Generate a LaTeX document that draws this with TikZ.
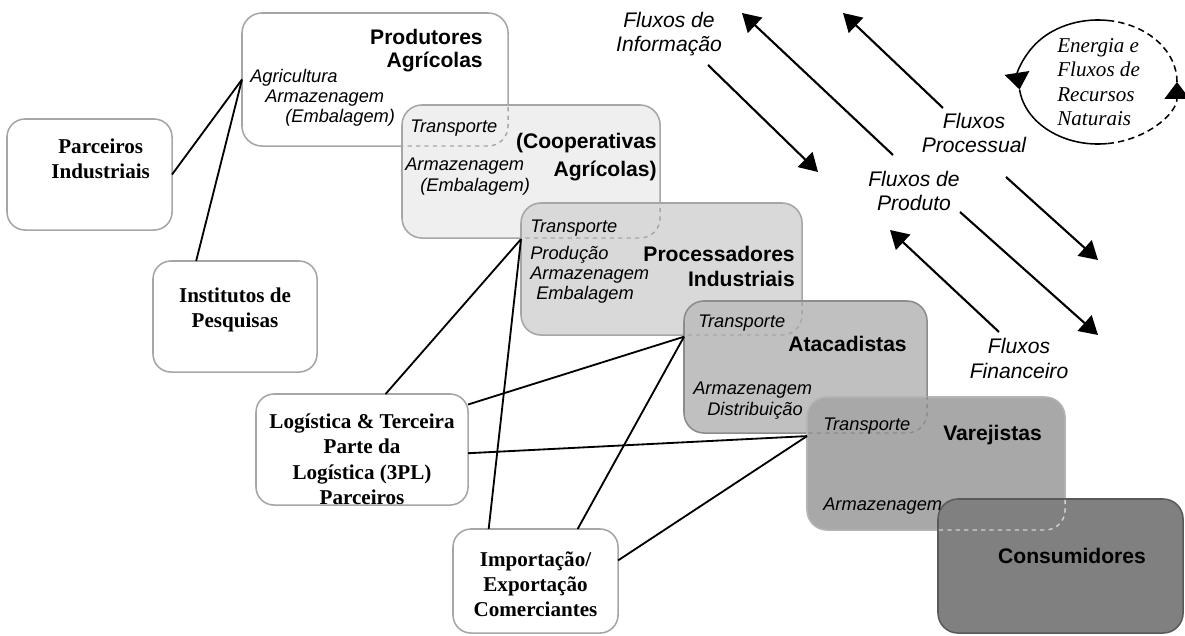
\documentclass[tikz,border=0pt]{standalone}
\usepackage{fontspec}
\setmainfont{Liberation Serif}
\setsansfont{Liberation Sans}
\usetikzlibrary{positioning}
\usetikzlibrary{arrows.meta}

\definecolor{boxline}{HTML}{A6A6A6}
\definecolor{coopfill}{HTML}{EFEFEF}
\definecolor{procfill}{HTML}{D9D9D9}
\definecolor{atacfill}{HTML}{C0C0C0}
\definecolor{atacline}{HTML}{8C8C8C}
\definecolor{varejfill}{HTML}{A8A8A8}
\definecolor{varejline}{HTML}{B4B4B4}
\definecolor{consfill}{HTML}{808080}
\definecolor{consline}{HTML}{5A5A5A}
\definecolor{dashlight}{HTML}{D2D2D2}

\tikzset{
	stage/.style={rectangle, rounded corners=0.5cm, line width=1.1pt, anchor=north west, inner sep=0pt, outer sep=0pt},
	partner/.style={rectangle, draw=boxline, fill=white, rounded corners=0.45cm, line width=1.1pt, anchor=north west, inner sep=0pt, outer sep=0pt},
	stitle/.style={font=\sffamily\bfseries\fontsize{15}{17}\selectfont, align=right, inner sep=0pt, anchor=base east},
	task/.style={font=\sffamily\itshape\fontsize{13}{14.5}\selectfont, align=left, inner sep=0pt, anchor=base west},
	ptext/.style={font=\bfseries\fontsize{15}{17.8}\selectfont, align=center, inner sep=0pt},
	flowlbl/.style={font=\sffamily\itshape\fontsize{15}{17.5}\selectfont, align=center, inner sep=0pt, anchor=base},
	flow/.style={line width=1.5pt, -{Triangle[length=0.45cm, width=0.52cm]}},
	link/.style={line width=1.3pt},
	cycletip/.style={-{Triangle[length=0.42cm, width=0.62cm]}},
}

\begin{document}
\begin{tikzpicture}[x=0.025cm, y=-0.025cm]

	\useasboundingbox (0,0) rectangle (1185,636);

	\node (prod_agr) [stage, draw=boxline, fill=white, minimum width=6.65cm, minimum height=3.325cm] at (242,13) {};
	\node (coop_agr) [stage, draw=boxline, fill=coopfill, minimum width=6.45cm, minimum height=3.325cm] at (402,105) {};
	\node (proc_ind) [stage, draw=boxline, fill=procfill, minimum width=7.025cm, minimum height=3.3cm] at (521,203) {};
	\node (atac) [stage, draw=atacline, fill=atacfill, minimum width=6.075cm, minimum height=3.3cm] at (684,301) {};
	\node (varej) [stage, draw=varejline, fill=varejfill, minimum width=6.45cm, minimum height=3.325cm] at (807,397) {};
	\node (cons) [stage, draw=consline, fill=consfill, minimum width=6.125cm, minimum height=3.35cm] at (938,499) {};

	\foreach \bx/\tx/\dc in {prod_agr/coop_agr/boxline, coop_agr/proc_ind/boxline, proc_ind/atac/boxline, atac/varej/atacline, varej/cons/dashlight} {
		\begin{scope}
			\clip[rounded corners=0.5cm] (\tx.north west) rectangle (\tx.south east);
			\path[draw=\dc, dashed, line width=1pt, rounded corners=0.5cm] (\bx.north west) rectangle (\bx.south east);
		\end{scope}
	}

	\node (prod_ttl) [stitle] at (483,68) {Produtores\\Agrícolas};
	\node (prod_tsk) [task] at (250,123) {Agricultura\\\hspace*{0.375cm}Armazenagem\\\hspace*{0.875cm}(Embalagem)};

	\node (coop_trn) [task] at (410,133) {Transporte};
	\node (coop_ttl) [stitle] at (657,177) {(Cooperativas\\[3pt]Agrícolas)};
	\node (coop_tsk) [task] at (405,192) {Armazenagem\\[1pt]\hspace*{0.375cm}(Embalagem)};

	\node (proc_trn) [task] at (530,233) {Transporte};
	\node (proc_ttl) [stitle] at (795,287) {Processadores\\[1pt]Industriais};
	\node (proc_tsk) [task] at (530,300) {Produção\\Armazenagem\\\hspace*{0.15cm}Embalagem};

	\node (atac_trn) [task] at (698,328) {Transporte};
	\node (atac_ttl) [stitle] at (907,352) {Atacadistas};
	\node (atac_tsk) [task] at (693,415) {Armazenagem\\\hspace*{0.35cm}Distribuição};

	\node (varej_trn) [task] at (823,430) {Transporte};
	\node (varej_ttl) [stitle, anchor=base west] at (943,440) {Varejistas};
	\node (varej_tsk) [task] at (823,510) {Armazenagem};

	\node (cons_ttl) [stitle, anchor=base] at (1072,563) {Consumidores};

	\node (parc_ind) [partner, minimum width=4.125cm, minimum height=2.775cm] at (7,119) {};
	\node (parc_lbl) [ptext, below=0.5cm of parc_ind.north, xshift=0.28cm] {Parceiros\\Industriais};
	\node (inst_pesq) [partner, minimum width=4.1cm, minimum height=2.775cm] at (153,261) {};
	\node (inst_lbl) [ptext, below=0.67cm of inst_pesq.north] {Institutos de\\Pesquisas};
	\node (log_3pl) [partner, minimum width=5.3cm, minimum height=2.775cm] at (256,394) {};
	\node (log_lbl) [ptext, below=0.5cm of log_3pl.north] {Logística \& Terceira\\Parte da\\Logística (3PL)\\Parceiros};
	\node (imp_exp) [partner, minimum width=4.125cm, minimum height=2.6cm] at (453,529) {};
	\node (imp_lbl) [ptext, below=0.56cm of imp_exp.north] {Importação/\\Exportação\\Comerciantes};

	\path[draw, link] (parc_ind.east) -- (prod_agr.west);
	\path[draw, link] (inst_pesq.125) -- (prod_agr.west);
	\path[draw, link] (log_3pl.67) -- (proc_ind.168);
	\path[draw, link] (imp_exp.132) -- (proc_ind.168);
	\path[draw, link] (log_3pl.23) -- (atac.166);
	\path[draw, link] (imp_exp.51) -- (atac.166);
	\path[draw, link] (log_3pl.-2) -- (varej.168);
	\path[draw, link] (imp_exp.14) -- (varej.168);

	\node (flx_info) [flowlbl] at (669,52) {Fluxos de\\Informação};
	\node (flx_proc) [flowlbl] at (974,153) {Fluxos\\Processual};
	\node (flx_prod) [flowlbl] at (914,211) {Fluxos de\\Produto};
	\node (flx_fin) [flowlbl] at (1019,378) {Fluxos\\Financeiro};

	\coordinate (info_s) at (708,65);
	\coordinate (info_t) at (818,172);
	\coordinate (prod_s) at (893,155);
	\coordinate (prod_t) at (742,13);
	\coordinate (proc_s) at (943,108);
	\coordinate (proc_t) at (843,13);
	\coordinate (proc2_s) at (1006,177);
	\coordinate (proc2_t) at (1098,260);
	\coordinate (prod2_s) at (960,212);
	\coordinate (prod2_t) at (1098,335);
	\coordinate (fin_s) at (999,332);
	\coordinate (fin_t) at (890,230);

	\path[draw, flow] (info_s) -- (info_t);
	\path[draw, flow] (prod_s) -- (prod_t);
	\path[draw, flow] (proc_s) -- (proc_t);
	\path[draw, flow] (proc2_s) -- (proc2_t);
	\path[draw, flow] (prod2_s) -- (prod2_t);
	\path[draw, flow] (fin_s) -- (fin_t);

	% ciclo de energia
	\coordinate (eco_c) at (1098,82);
	\path[draw, line width=1.1pt, cycletip] (eco_c) ++(80:1.975cm and 1.55cm) arc[start angle=80, end angle=187, x radius=1.975cm, y radius=1.55cm];
	\path[draw, line width=1.1pt] (eco_c) ++(187:1.975cm and 1.55cm) arc[start angle=187, end angle=277, x radius=1.975cm, y radius=1.55cm];
	\path[draw, line width=1.1pt, dash pattern=on 4.5pt off 3pt, cycletip] (eco_c) ++(277:1.975cm and 1.55cm) arc[start angle=277, end angle=360, x radius=1.975cm, y radius=1.55cm];
	\path[draw, line width=1.1pt, dash pattern=on 4.5pt off 3pt] (eco_c) ++(0:1.975cm and 1.55cm) arc[start angle=0, end angle=80, x radius=1.975cm, y radius=1.55cm];
	\node (eco_lbl) [font=\itshape\fontsize{15}{17.5}\selectfont, align=left, inner sep=0pt, anchor=base west] at (1057,126) {Energia e\\Fluxos de\\Recursos\\Naturais};

\end{tikzpicture}
\end{document}
